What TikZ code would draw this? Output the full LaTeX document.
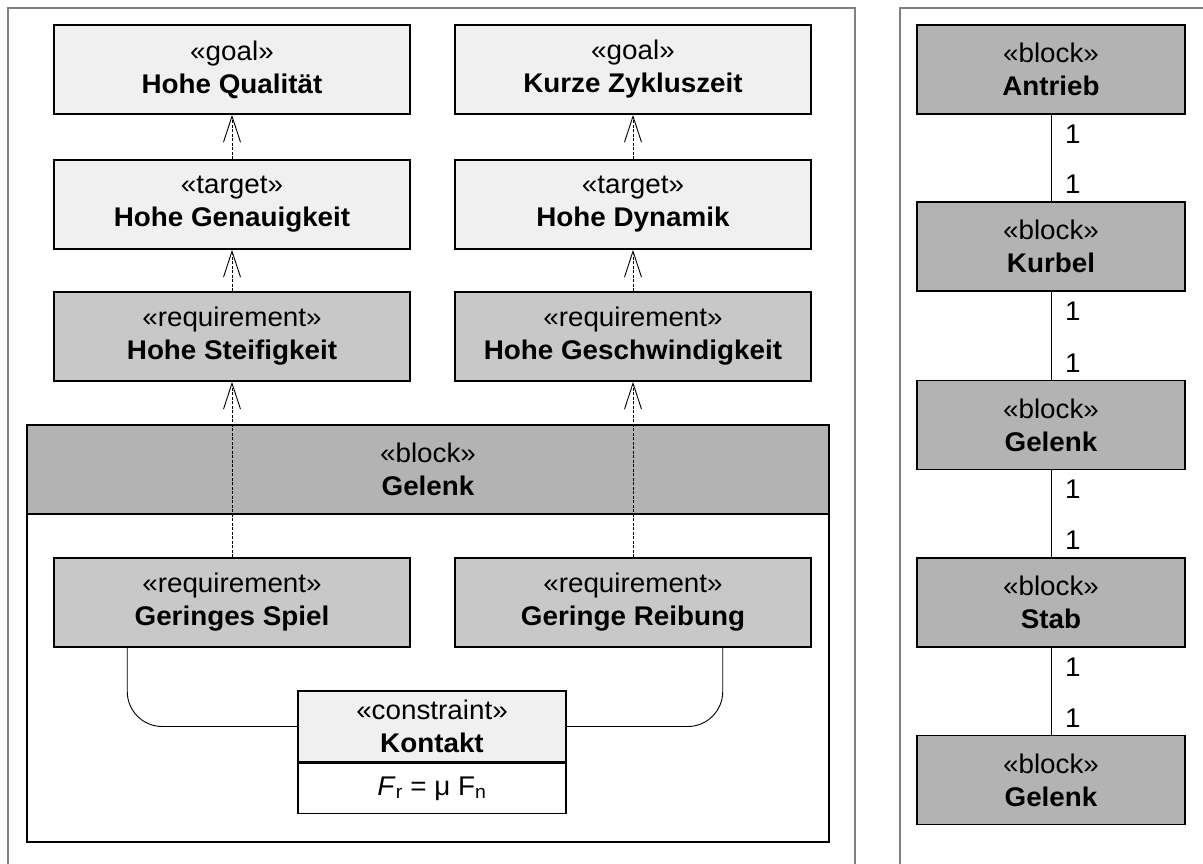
\documentclass[tikz,border=0pt]{standalone}
\usepackage{fontspec}
\setmainfont[FakeStretch=1.03]{Liberation Sans}
\usetikzlibrary{arrows.meta}
\definecolor{goalc}{HTML}{F0F0F0}
\definecolor{reqc}{HTML}{C8C8C8}
\definecolor{blockc}{HTML}{B3B3B3}
\definecolor{framec}{HTML}{808080}
\tikzset{
  lbl/.style={font=\fontsize{27}{33}\selectfont},
  umlbox/.style={draw=black, line width=1.5pt, minimum width=356pt, minimum height=89pt, inner sep=0pt, align=center, lbl},
  goalbox/.style={umlbox, fill=goalc},
  reqbox/.style={umlbox, fill=reqc},
  blockbox/.style={umlbox, fill=blockc, minimum width=268pt},
  framebox/.style={draw=framec, line width=2pt},
  dep/.style={line width=0.9pt, dash pattern=on 3pt off 1.5pt, -{Straight Barb[length=26pt,width=17pt,line width=0.9pt]}},
  assoc/.style={line width=0.9pt},
  mult/.style={lbl, anchor=west, inner sep=0pt}
}
\begin{document}
\begin{tikzpicture}[x=1pt,y=-1pt]
\useasboundingbox (0,0) rectangle (1203,863);
% frames
\draw[framebox] (8,880) -- (8,8) -- (855,8) -- (855,880);
\draw[framebox] (900,880) -- (900,8) -- (1220,8);
% left diagram
\node[goalbox] (g1) at (232,69.5) {«goal»\\\textbf{Hohe Qualität}};
\node[goalbox] (g2) at (633,69.5) {«goal»\\\textbf{Kurze Zykluszeit}};
\node[goalbox] (t1) at (232,204.5) {«target»\\\textbf{Hohe Genauigkeit}};
\node[goalbox] (t2) at (633,204.5) {«target»\\\textbf{Hohe Dynamik}};
\node[reqbox] (r1) at (232,336.5) {«requirement»\\\textbf{Hohe Steifigkeit}};
\node[reqbox] (r2) at (633,336.5) {«requirement»\\\textbf{Hohe Geschwindigkeit}};
% Gelenk container
\node[draw=black, line width=1.5pt, fill=white, minimum width=802pt, minimum height=417pt, inner sep=0pt] (gc) at (428,633.5) {};
\node[umlbox, fill=blockc, minimum width=802pt] (gh) at (428,469.5) {«block»\\\textbf{Gelenk}};
\node[reqbox] (sp) at (232,602.5) {«requirement»\\\textbf{Geringes Spiel}};
\node[reqbox] (rb) at (633,602.5) {«requirement»\\\textbf{Geringe Reibung}};
\node[umlbox, fill=goalc, minimum width=268pt, minimum height=71pt] (kh) at (432,726.5) {«constraint»\\\textbf{Kontakt}};
\node[umlbox, fill=white, minimum width=268pt, minimum height=50pt, anchor=north] (kf) at (kh.south) {\textit{F}\textsubscript{r} = μ F\textsubscript{n}};
\draw[assoc, rounded corners=35pt] ([xshift=74pt]sp.south west) |- (kh.west);
\draw[assoc, rounded corners=35pt] ([xshift=-89pt]rb.south east) |- (kh.east);
% dependencies
\draw[dep] (t1.north) -- (g1.south);
\draw[dep] (t2.north) -- (g2.south);
\draw[dep] (r1.north) -- (t1.south);
\draw[dep] (r2.north) -- (t2.south);
\draw[dep] (sp.north) -- (r1.south);
\draw[dep] (rb.north) -- (r2.south);
% right diagram
\node[blockbox] (b1) at (1051,69.5) {«block»\\\textbf{Antrieb}};
\node[blockbox] (b2) at (1051,246.5) {«block»\\\textbf{Kurbel}};
\node[blockbox] (b3) at (1051,425) {«block»\\\textbf{Gelenk}};
\node[blockbox] (b4) at (1051,602.5) {«block»\\\textbf{Stab}};
\node[blockbox] (b5) at (1051,780) {«block»\\\textbf{Gelenk}};
\foreach \a/\b in {b1/b2,b2/b3,b3/b4,b4/b5}{
  \draw[assoc] (\a.south) -- (\b.north);
  \node[mult] at ([xshift=14pt,yshift=-19pt]\a.south) {1};
  \node[mult] at ([xshift=14pt,yshift=17pt]\b.north) {1};
}
\end{tikzpicture}
\end{document}
